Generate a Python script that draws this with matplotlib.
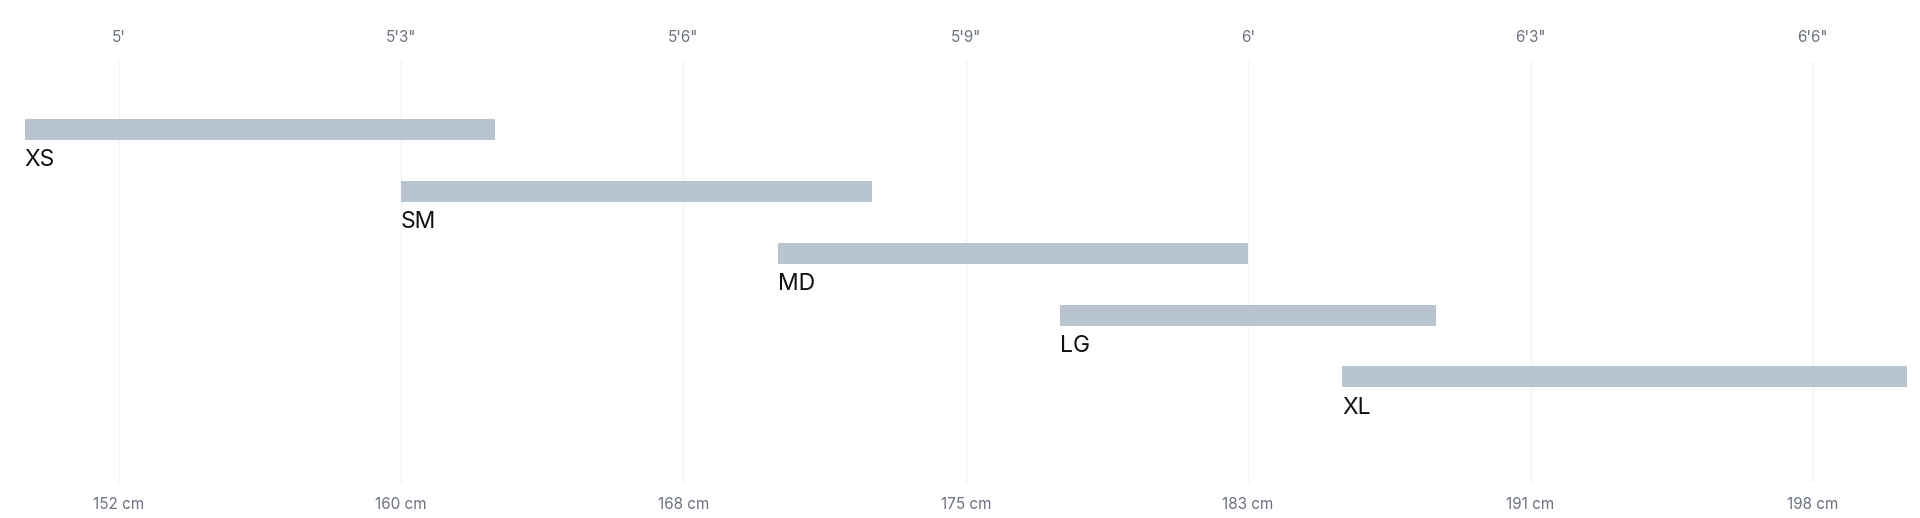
import matplotlib
matplotlib.use("Agg")
import matplotlib.pyplot as plt

sizes = ["XS", "SM", "MD", "LG", "XL"]
start_in = [59, 63, 67, 70, 73]
end_in = [64, 68, 72, 74, 79]
tick_in = [60, 63, 66, 69, 72, 75, 78]
top_labels = ["5'", "5'3\"", "5'6\"", "5'9\"", "6'", "6'3\"", "6'6\""]
bottom_labels = ["152 cm", "160 cm", "168 cm", "175 cm", "183 cm", "191 cm", "198 cm"]

plt.rcParams['font.family'] = ['Inter', 'DejaVu Sans']

fig = plt.figure(figsize=(19.2, 5.18), dpi=100)
ax = fig.add_axes([24.5/1920, (518-482.7)/518, (1907-24.5)/1920, (482.7-60.7)/518])

ypos = list(range(len(sizes)))
widths = [e - s for s, e in zip(start_in, end_in)]
ax.barh(ypos, widths, left=start_in, height=0.34, color="#b8c4cf", zorder=2)
for y, s, lab in zip(ypos, start_in, sizes):
    ax.text(s, y + 0.5, lab, ha="left", va="center", fontsize=16.5, color="#111111", zorder=3)

ax.set_xlim(59, 79)
ax.set_ylim(5.711, -1.112)
ax.set_yticks([])
ax.set_xticks(tick_in)
ax.set_xticklabels(bottom_labels)
ax.tick_params(axis="x", length=0, pad=10.5, labelsize=11, labelcolor="#6b7280")
ax.grid(axis="x", color="#f2f3f5", linewidth=1, zorder=0)
for sp in ax.spines.values():
    sp.set_visible(False)

sec = ax.secondary_xaxis("top")
sec.set_xticks(tick_in)
sec.set_xticklabels(top_labels)
sec.tick_params(axis="x", length=0, pad=11.5, labelsize=11, labelcolor="#6b7280")
for sp in sec.spines.values():
    sp.set_visible(False)

fig.savefig("out.png", dpi=100, facecolor="white")
